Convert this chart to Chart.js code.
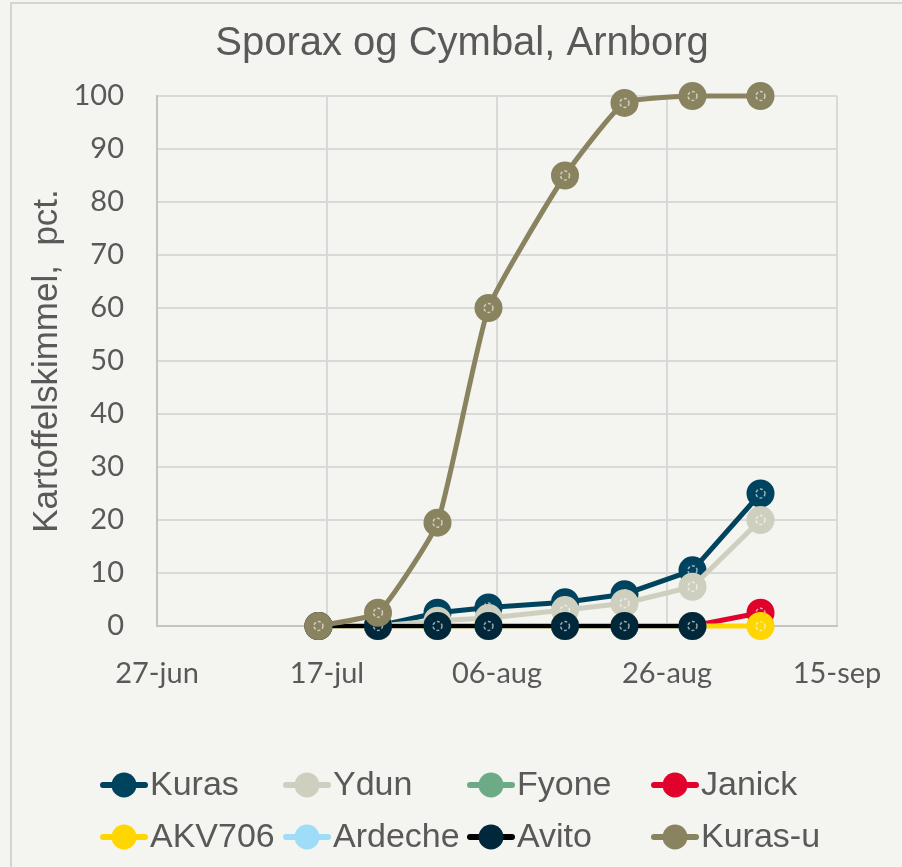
<!DOCTYPE html>
<html>
<head>
<meta charset="utf-8">
<title>Sporax og Cymbal, Arnborg</title>
<script src="https://cdn.jsdelivr.net/npm/chart.js@4.4.1/dist/chart.umd.min.js"></script>
<style>
  html, body { margin: 0; padding: 0; background: #f4f4f0; }
  #wrap { position: relative; width: 902px; height: 867px; overflow: hidden; }
</style>
</head>
<body>
<div id="wrap"><canvas id="chart" width="902" height="867"></canvas></div>
<script>
// x values are days after 27-jun
const xTickLabels = ["27-jun", "17-jul", "06-aug", "26-aug", "15-sep"];
const days = [19, 26, 33, 39, 48, 55, 63, 71];

const chartTitle = "Sporax og Cymbal, Arnborg";
const seriesNames = ["Kuras", "Ydun", "Fyone", "Janick", "AKV706", "Ardeche", "Avito", "Kuras-u"];
const kuras   = [0, 0, 2.5, 3.5, 4.5, 6, 10.5, 25];
const ydun    = [0, 0, 1, 1.5, 3, 4.3, 7.4, 20];
const fyone   = [0, 0, 0, 0, 0, 0, 0];
const janick  = [0, 0, 0, 0, 0, 0, 0, 2.5];
const akv706  = [0, 0, 0, 0, 0, 0, 0, 0];
const ardeche = [0, 0, 0, 0, 0, 0, 0];
const avito   = [0, 0, 0, 0, 0, 0, 0];
const kurasU  = [0, 2.5, 19.5, 60, 85, 98.7, 100, 100];
const seriesValues = [kuras, ydun, fyone, janick, akv706, ardeche, avito, kurasU];

const markerColors = ["#00435f", "#cfcfbf", "#6dab87", "#e2002d", "#ffd600", "#9edcf8", "#00273a", "#8a8360"];
const lineColors   = ["#00435f", "#cfcfbf", "#6dab87", "#e2002d", "#ffd600", "#9edcf8", "#000000", "#8a8360"];

const TXT = "#595959";
const FONT = "'Liberation Sans', Arial, sans-serif";
const TICKFONT = "Lato, 'Liberation Sans', sans-serif";

// small dashed ring drawn inside each marker, right after its own dataset
const markerRing = {
  id: "markerRing",
  afterDatasetDraw(chart, args) {
    const ctx = chart.ctx;
    ctx.save();
    ctx.strokeStyle = "rgba(255,255,255,0.6)";
    ctx.lineWidth = 1.5;
    ctx.setLineDash([3, 2]);
    for (const pt of args.meta.data) {
      ctx.beginPath();
      ctx.arc(pt.x, pt.y, 4.5, 0, Math.PI * 2);
      ctx.stroke();
    }
    ctx.restore();
  },
};

// background, outer frame and the title (centred on the whole picture, not the plot)
const frame = {
  id: "frame",
  beforeDraw(chart) {
    const ctx = chart.ctx;
    ctx.save();
    ctx.fillStyle = "#f4f4f0";
    ctx.fillRect(0, 0, chart.width, chart.height);
    ctx.strokeStyle = "#d4d4d4";
    ctx.lineWidth = 2;
    ctx.strokeRect(11, 3, chart.width + 20, chart.height + 20);
    ctx.fillStyle = TXT;
    ctx.font = "40px " + FONT;
    ctx.textAlign = "center";
    ctx.textBaseline = "middle";
    ctx.fillText(chartTitle, 462, 44);
    ctx.restore();
  },
};

// Excel-style legend: 4 columns, line + round marker
const gridLegend = {
  id: "gridLegend",
  afterDraw(chart) {
    const ctx = chart.ctx;
    const colX = [100, 283, 467, 651];
    const rowY = [785, 837];
    ctx.save();
    ctx.font = "34px " + FONT;
    ctx.textBaseline = "middle";
    ctx.textAlign = "left";
    chart.data.datasets.forEach((ds, i) => {
      const x = colX[i % 4];
      const y = rowY[Math.floor(i / 4)];
      ctx.strokeStyle = lineColors[i];
      ctx.lineWidth = 6;
      ctx.lineCap = "round";
      ctx.beginPath();
      ctx.moveTo(x + 3, y);
      ctx.lineTo(x + 45, y);
      ctx.stroke();
      ctx.fillStyle = markerColors[i];
      ctx.beginPath();
      ctx.arc(x + 24, y, 12.5, 0, Math.PI * 2);
      ctx.fill();
      ctx.fillStyle = TXT;
      ctx.fillText(ds.label, x + 50, y + 1);
    });
    ctx.restore();
  },
};

const datasets = seriesNames.map((name, i) => ({
  label: name,
  data: seriesValues[i].map((v, j) => ({ x: days[j], y: v })),
  borderColor: lineColors[i],
  backgroundColor: markerColors[i],
  pointBackgroundColor: markerColors[i],
  pointBorderColor: markerColors[i],
  borderWidth: name === "Avito" ? 4 : 5,
  pointRadius: 13,
  pointHoverRadius: 13,
  pointBorderWidth: 2,
  tension: name === "Kuras-u" ? 0.15 : 0,
  clip: false,
  order: seriesNames.length - i,
}));

new Chart(document.getElementById("chart"), {
  type: "line",
  data: { datasets },
  plugins: [frame, markerRing, gridLegend],
  options: {
    responsive: false,
    animation: false,
    layout: { padding: { left: 0, right: 65, top: 96, bottom: 161 } },
    plugins: {
      legend: { display: false },
      tooltip: { enabled: false },
      title: { display: false },
    },
    scales: {
      x: {
        type: "linear",
        min: 0,
        max: 80,
        afterFit: (s) => {
          s.height = 80;
          s.paddingLeft = 0;
          s.paddingRight = 0;
        },
        ticks: {
          stepSize: 20,
          autoSkip: false,
          maxRotation: 0,
          padding: 30,
          color: TXT,
          font: { family: TICKFONT, size: 29 },
          callback: (v) => xTickLabels[v / 20] ?? "",
        },
        grid: { color: "#d9d9d9", lineWidth: 2, drawTicks: false },
        border: { color: "#c4c4c4", width: 2 },
      },
      y: {
        min: 0,
        max: 100,
        afterFit: (s) => { s.width = 157; },
        ticks: {
          stepSize: 10,
          padding: 33,
          color: TXT,
          font: { family: TICKFONT, size: 29 },
        },
        grid: { color: "#d9d9d9", lineWidth: 2, drawTicks: false },
        border: { color: "#c4c4c4", width: 2 },
        title: {
          display: true,
          text: "Kartoffelskimmel,  pct.",
          color: TXT,
          font: { family: FONT, size: 35, weight: "normal" },
          padding: { top: 26, bottom: 0 },
        },
      },
    },
  },
});
</script>
</body>
</html>
